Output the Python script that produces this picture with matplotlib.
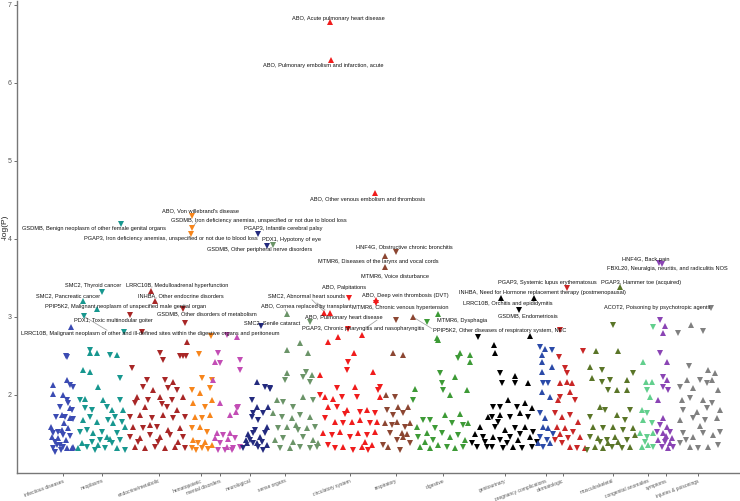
import matplotlib
matplotlib.use('Agg')
import matplotlib.pyplot as plt

plt.rcParams['font.family'] = ['Liberation Sans', 'DejaVu Sans']

# phenotype categories, tick position (phecode order) and colour
categories = ['infectious diseases', 'neoplasms', 'endocrine/metabolic', 'hematopoietic',
              'mental disorders', 'neurological', 'sense organs', 'circulatory system',
              'respiratory', 'digestive', 'genitourinary', 'pregnancy complications',
              'dermatologic', 'musculoskeletal', 'congenital anomalies', 'symptoms',
              'injuries & poisonings']
cat_ticks = [63, 102, 159, 201, 220, 250, 285, 350, 396, 443, 505, 546, 563, 613, 648, 666, 698]
cat_colors = ['#3B4BB3', '#17978F', '#A82626', '#F7851B', '#C34DB5', '#232A7E', '#6B9468',
              '#F01C1C', '#8C4632', '#3D9A36', '#000000', '#2B4AA8', '#C92626', '#5A7528',
              '#62CF8D', '#8A44B4', '#808080']

# (phecode position, -log10 P, sign of effect)
infectious = [(66, 2.50, -1), (67, 2.49, -1), (67, 2.19, 1), (70, 2.13, -1), (73, 2.10, -1), (53, 2.01, 1),
              (63, 2.00, 1), (67, 1.94, -1), (68, 1.90, -1), (60, 1.85, -1), (70, 1.83, 1), (72, 1.81, -1),
              (56, 1.72, -1), (62, 1.74, 1), (65, 1.72, -1), (70, 1.70, 1), (73, 1.69, -1), (51, 1.59, 1),
              (53, 1.51, -1), (58, 1.53, -1), (62, 1.55, 1), (63, 1.49, -1), (58, 1.45, 1), (55, 1.40, -1),
              (60, 1.36, -1), (63, 1.33, -1), (66, 1.42, 1), (67, 1.32, 1), (53, 1.32, -1), (57, 1.36, -1),
              (68, 1.58, 1), (73, 1.33, 1), (52, 1.46, 1), (55, 1.27, -1), (72, 1.32, 1), (71, 2.87, 1),
              (53, 2.13, 1), (64, 1.64, 1), (70, 1.48, -1), (61, 1.29, -1)]
neoplasms = [(90, 2.58, -1), (90, 2.54, 1), (97, 2.54, 1), (110, 2.51, -1), (117, 2.51, 1), (83, 2.32, 1),
             (90, 2.29, 1), (98, 2.10, 1), (120, 2.22, -1), (80, 1.94, -1), (85, 1.83, -1), (92, 1.81, -1),
             (103, 1.94, 1), (107, 1.85, -1), (112, 1.81, 1), (120, 1.94, -1), (123, 1.81, 1), (83, 1.68, 1),
             (90, 1.72, -1), (97, 1.65, 1), (108, 1.68, -1), (113, 1.64, 1), (122, 1.65, -1), (80, 1.53, -1),
             (87, 1.55, -1), (93, 1.51, 1), (102, 1.53, -1), (107, 1.46, 1), (117, 1.51, -1), (125, 1.59, 1),
             (82, 1.38, 1), (87, 1.33, -1), (92, 1.40, -1), (98, 1.36, 1), (105, 1.32, -1), (112, 1.38, -1),
             (117, 1.32, 1), (125, 1.29, -1), (78, 1.32, 1), (124, 2.81, -1), (100, 1.42, -1), (95, 1.30, -1),
             (110, 1.43, 1), (85, 1.95, 1), (115, 1.72, -1), (120, 1.42, -1)]
endocrine = [(183, 3.10, -1), (142, 2.81, -1), (187, 2.68, 1), (160, 2.54, -1), (163, 2.45, -1), (183, 2.50, -1),
             (180, 2.50, -1), (186, 2.50, -1), (132, 2.35, -1), (147, 2.19, -1), (165, 2.19, -1), (173, 2.17, 1),
             (143, 2.10, -1), (153, 2.06, 1), (168, 2.09, -1), (177, 2.06, -1), (137, 1.97, 1), (148, 1.94, -1),
             (160, 1.97, 1), (172, 1.94, -1), (183, 1.97, 1), (135, 1.90, -1), (145, 1.85, 1), (167, 1.85, -1),
             (177, 1.81, 1), (130, 1.72, -1), (140, 1.74, 1), (152, 1.70, -1), (163, 1.74, 1), (173, 1.70, -1),
             (185, 1.72, -1), (133, 1.59, 1), (143, 1.58, -1), (157, 1.59, -1), (168, 1.55, 1), (180, 1.58, 1),
             (130, 1.46, -1), (140, 1.45, 1), (150, 1.49, -1), (160, 1.46, 1), (170, 1.49, -1), (183, 1.46, -1),
             (135, 1.33, 1), (145, 1.32, 1), (155, 1.33, -1), (165, 1.32, 1), (175, 1.33, 1), (185, 1.32, -1),
             (138, 1.40, -1), (158, 1.40, -1), (178, 1.40, 1), (150, 1.62, 1), (162, 1.88, -1)]
hematopoietic = [(211, 2.76, -1), (199, 2.53, -1), (202, 2.22, -1), (212, 2.19, -1), (192, 2.06, -1), (200, 2.03, 1),
                 (210, 2.09, -1), (193, 1.90, 1), (205, 1.85, -1), (212, 1.94, 1), (195, 1.72, 1), (202, 1.70, -1),
                 (210, 1.74, 1), (192, 1.58, -1), (200, 1.59, 1), (207, 1.53, -1), (193, 1.42, 1), (198, 1.38, -1),
                 (205, 1.40, 1), (192, 1.32, -1), (202, 1.32, -1), (212, 1.36, 1), (196, 1.30, -1), (208, 1.31, -1)]
mental = [(237, 2.74, 1), (227, 2.77, -1), (218, 2.54, -1), (220, 2.41, -1), (215, 2.42, 1), (240, 2.45, -1),
          (240, 2.32, -1), (213, 2.19, 1), (220, 1.90, 1), (238, 1.85, -1), (230, 1.74, 1), (237, 1.83, -1),
          (217, 1.51, 1), (223, 1.49, -1), (230, 1.51, 1), (235, 1.45, -1), (220, 1.38, -1), (227, 1.33, 1),
          (233, 1.32, -1), (240, 1.33, -1), (218, 1.29, -1), (225, 1.29, -1), (215, 1.45, 1), (236, 1.78, 1),
          (232, 1.30, -1), (228, 1.44, 1)]
neurological = [(257, 2.17, 1), (265, 2.10, -1), (270, 2.09, -1), (252, 1.94, -1), (257, 1.85, 1), (263, 1.77, -1),
                (268, 1.85, 1), (252, 1.72, -1), (258, 1.68, -1), (267, 1.59, 1), (253, 1.51, -1), (260, 1.46, 1),
                (265, 1.51, -1), (253, 1.38, -1), (258, 1.33, -1), (267, 1.36, 1), (263, 1.29, -1), (250, 1.42, -1),
                (257, 1.38, 1), (247, 1.38, 1), (243, 1.32, -1), (246, 1.42, 1), (270, 2.08, -1), (255, 1.55, -1),
                (262, 1.40, -1), (248, 1.50, 1), (253, 1.77, -1)]
sense_organs = [(310, 2.94, -1), (300, 2.67, 1), (287, 2.58, 1), (308, 2.54, 1), (287, 2.28, 1), (285, 2.19, -1),
                (303, 2.23, -1), (312, 2.26, 1), (310, 2.17, -1), (277, 1.94, 1), (283, 1.91, -1), (293, 1.85, -1),
                (303, 1.97, 1), (313, 1.94, -1), (273, 1.77, 1), (282, 1.72, -1), (292, 1.70, 1), (300, 1.74, -1),
                (310, 1.72, 1), (278, 1.58, -1), (287, 1.59, 1), (298, 1.55, -1), (307, 1.58, 1), (315, 1.59, -1),
                (275, 1.42, 1), (283, 1.45, -1), (293, 1.40, 1), (303, 1.46, -1), (313, 1.42, 1), (318, 1.38, 1),
                (280, 1.32, -1), (290, 1.32, 1), (300, 1.33, -1), (310, 1.32, -1), (317, 1.33, -1), (296, 1.62, 1),
                (306, 2.30, -1)]
circulatory = [(328, 2.68, 1), (338, 2.74, 1), (348, 2.85, -1), (362, 2.77, 1), (354, 2.54, 1), (348, 2.42, -1),
               (347, 2.32, -1), (373, 2.29, 1), (320, 2.26, 1), (320, 2.00, -1), (325, 1.97, 1), (337, 2.09, -1),
               (342, 1.97, -1), (355, 2.10, 1), (357, 1.97, -1), (378, 2.06, -1), (380, 1.97, 1), (328, 1.85, 1),
               (337, 1.85, -1), (347, 1.81, 1), (360, 1.78, -1), (367, 1.81, 1), (375, 1.77, -1), (325, 1.70, -1),
               (335, 1.65, 1), (343, 1.64, -1), (352, 1.65, 1), (360, 1.68, 1), (370, 1.64, -1), (377, 1.65, 1),
               (323, 1.51, 1), (332, 1.49, -1), (340, 1.53, 1), (350, 1.46, -1), (358, 1.51, 1), (367, 1.49, -1),
               (375, 1.53, 1), (328, 1.36, -1), (335, 1.32, -1), (343, 1.33, 1), (353, 1.29, -1), (362, 1.33, 1),
               (368, 1.29, -1), (372, 1.36, 1), (330, 3.05, 1), (345, 1.75, -1), (365, 1.40, 1), (380, 2.10, -1),
               (333, 1.95, 1)]
respiratory = [(393, 2.54, 1), (403, 2.51, 1), (387, 1.81, -1), (393, 1.74, -1), (398, 1.85, 1), (403, 1.77, -1),
               (408, 1.85, 1), (385, 1.64, 1), (392, 1.62, -1), (397, 1.65, 1), (405, 1.59, -1), (410, 1.64, 1),
               (383, 1.36, -1), (388, 1.33, 1), (397, 1.42, -1), (403, 1.46, 1), (410, 1.38, -1), (390, 1.51, -1),
               (402, 1.51, 1), (395, 1.97, -1), (400, 1.30, -1), (407, 1.50, 1), (386, 2.00, 1)]
digestive = [(427, 2.94, -1), (437, 2.73, 1), (438, 2.71, 1), (460, 2.54, 1), (458, 2.47, -1), (470, 2.51, 1),
             (470, 2.42, 1), (415, 2.08, 1), (413, 1.94, -1), (440, 2.28, -1), (442, 2.15, -1), (443, 2.06, -1),
             (450, 2.00, 1), (455, 2.23, 1), (467, 2.06, 1), (423, 1.68, -1), (430, 1.68, -1), (417, 1.59, 1),
             (445, 1.74, 1), (452, 1.64, -1), (463, 1.62, -1), (468, 1.64, 1), (418, 1.46, -1), (427, 1.51, 1),
             (433, 1.42, -1), (442, 1.51, -1), (450, 1.46, 1), (458, 1.49, -1), (465, 1.42, 1), (420, 1.33, 1),
             (430, 1.32, 1), (438, 1.36, 1), (447, 1.33, -1), (455, 1.32, 1), (463, 1.33, -1), (435, 1.58, -1),
             (460, 1.75, 1), (425, 1.40, 1)]
genitourinary = [(478, 2.74, -1), (530, 2.76, 1), (494, 2.64, 1), (495, 2.54, 1), (500, 2.28, -1), (515, 2.24, 1),
                 (502, 2.15, -1), (515, 2.15, -1), (528, 2.15, 1), (493, 1.85, -1), (500, 1.85, -1), (508, 1.94, 1),
                 (517, 1.85, -1), (525, 1.90, 1), (532, 1.83, 1), (492, 1.72, -1), (500, 1.74, 1), (510, 1.72, -1),
                 (520, 1.77, 1), (528, 1.72, -1), (495, 1.59, -1), (505, 1.55, 1), (515, 1.58, -1), (525, 1.59, 1),
                 (533, 1.53, -1), (493, 1.46, 1), (500, 1.42, -1), (510, 1.46, -1), (518, 1.42, 1), (530, 1.46, 1),
                 (492, 1.33, -1), (503, 1.32, -1), (513, 1.33, 1), (522, 1.32, -1), (532, 1.33, -1), (480, 1.59, 1),
                 (483, 1.46, -1), (477, 1.33, -1), (488, 1.72, 1), (487, 1.33, -1), (472, 1.38, -1), (485, 1.40, -1),
                 (475, 1.50, 1), (507, 1.38, -1), (537, 1.40, -1), (498, 1.65, -1), (520, 1.50, -1)]
pregnancy = [(540, 2.62, -1), (545, 2.59, 1), (552, 2.58, -1), (542, 2.51, 1), (542, 2.42, 1), (552, 2.36, 1),
             (542, 2.30, 1), (543, 2.15, -1), (548, 2.15, -1), (542, 2.04, 1), (550, 1.97, 1), (540, 1.77, -1),
             (545, 1.70, 1), (543, 1.59, 1), (548, 1.58, 1), (540, 1.46, -1), (547, 1.42, -1), (543, 1.33, -1),
             (550, 1.38, 1), (538, 1.38, 1), (553, 1.50, -1)]
dermatologic = [(559, 2.49, -1), (565, 2.35, -1), (567, 2.28, -1), (567, 2.17, 1), (560, 2.15, 1), (572, 2.15, 1),
                (570, 2.04, 1), (560, 1.97, -1), (558, 1.94, 1), (575, 1.94, -1), (555, 1.77, -1), (562, 1.72, 1),
                (570, 1.74, -1), (557, 1.59, 1), (565, 1.58, 1), (573, 1.53, -1), (580, 1.46, 1), (555, 1.42, -1),
                (562, 1.38, -1), (570, 1.33, 1), (577, 1.32, -1), (585, 1.32, 1), (583, 2.56, -1), (560, 1.50, 1),
                (568, 1.45, -1), (578, 1.65, 1)]
musculoskeletal = [(613, 2.90, -1), (596, 2.56, 1), (618, 2.56, 1), (590, 2.36, 1), (602, 2.32, -1), (592, 2.22, 1),
                   (602, 2.17, -1), (610, 2.19, -1), (627, 2.19, 1), (633, 2.28, -1), (608, 2.06, -1), (617, 2.06, 1),
                   (627, 2.06, 1), (600, 1.85, 1), (605, 1.81, -1), (590, 1.72, -1), (617, 1.74, 1), (630, 1.81, -1),
                   (593, 1.59, 1), (603, 1.58, -1), (613, 1.59, 1), (623, 1.55, -1), (633, 1.58, 1), (590, 1.46, -1),
                   (598, 1.45, 1), (607, 1.42, -1), (615, 1.46, 1), (627, 1.42, -1), (635, 1.49, 1), (587, 1.29, -1),
                   (595, 1.33, 1), (603, 1.32, 1), (612, 1.33, -1), (622, 1.32, -1), (630, 1.33, 1), (608, 1.38, 1),
                   (618, 1.40, 1), (600, 1.40, -1), (625, 1.68, -1)]
congenital = [(653, 2.87, -1), (643, 2.42, 1), (646, 2.17, 1), (652, 2.17, 1), (647, 2.06, -1), (650, 1.97, 1),
              (642, 1.81, 1), (647, 1.77, -1), (643, 1.68, 1), (652, 1.64, -1), (640, 1.51, 1), (647, 1.46, -1),
              (642, 1.33, 1), (648, 1.36, 1), (653, 1.33, -1), (653, 1.51, 1), (645, 1.40, -1)]
symptoms = [(660, 2.96, -1), (665, 2.88, 1), (663, 2.79, 1), (660, 2.54, -1), (667, 2.42, 1), (663, 2.23, -1),
            (667, 2.19, 1), (663, 2.10, -1), (668, 2.06, -1), (658, 1.94, 1), (663, 1.70, 1), (660, 1.62, -1),
            (667, 1.59, 1), (657, 1.53, -1), (663, 1.51, 1), (670, 1.53, -1), (658, 1.42, 1), (665, 1.40, -1),
            (672, 1.45, 1), (662, 1.33, -1), (668, 1.32, 1), (673, 1.33, -1), (666, 1.48, 1), (670, 1.38, 1)]
injuries = [(678, 2.79, -1), (691, 2.90, 1), (703, 2.82, -1), (689, 2.37, -1), (708, 2.32, 1), (715, 2.28, 1),
            (687, 2.19, 1), (700, 2.19, -1), (707, 2.15, -1), (712, 2.19, 1), (680, 2.10, -1), (693, 2.09, 1),
            (718, 2.06, 1), (682, 1.94, 1), (690, 1.96, -1), (703, 1.94, 1), (712, 1.90, -1), (683, 1.81, -1),
            (697, 1.78, 1), (707, 1.83, -1), (720, 1.81, 1), (680, 1.68, 1), (693, 1.70, -1), (705, 1.68, -1),
            (717, 1.70, 1), (683, 1.51, -1), (693, 1.46, 1), (703, 1.51, -1), (713, 1.49, 1), (720, 1.53, -1),
            (680, 1.38, -1), (690, 1.33, 1), (698, 1.32, -1), (708, 1.33, 1), (718, 1.36, -1), (700, 1.60, 1),
            (686, 1.42, -1)]

all_points = [infectious, neoplasms, endocrine, hematopoietic, mental, neurological, sense_organs,
              circulatory, respiratory, digestive, genitourinary, pregnancy, dermatologic,
              musculoskeletal, congenital, symptoms, injuries]

# labelled hits: text, category index, position, -log10 P, sign
hit_labels = ["ABO, Acute pulmonary heart disease",
              "ABO, Pulmonary embolism and infarction, acute",
              "ABO, Other venous embolism and thrombosis",
              "ABO, Von willebrand's disease",
              "GSDMB, Iron deficiency anemias, unspecified or not due to blood loss",
              "GSDMB, Benign neoplasm of other female genital organs",
              "PGAP3, Iron deficiency anemias, unspecified or not due to blood loss",
              "PGAP3, Infantile cerebral palsy",
              "PDX1, Hypotony of eye",
              "GSDMB, Other peripheral nerve disorders",
              "HNF4G, Obstructive chronic bronchitis",
              "MTMR6, Diseases of the larynx and vocal cords",
              "MTMR6, Voice disturbance",
              "SMC2, Thyroid cancer",
              "LRRC10B, Medulloadrenal hyperfunction",
              "SMC2, Pancreatic cancer",
              "INHBA, Other endocrine disorders",
              "PPIP5K2, Malignant neoplasm of unspecified male genital organ",
              "GSDMB, Other disorders of metabolism",
              "PDX1, Toxic multinodular goiter",
              "LRRC10B, Malignant neoplasm of other and ill-defined sites within the digestive organs and peritoneum",
              "SMC2, Abnormal heart sounds",
              "ABO, Palpitations",
              "ABO, Deep vein thrombosis (DVT)",
              "ABO, Cornea replaced by transplant",
              "SMC2, Senile cataract",
              "MTMR6, Chronic venous hypertension",
              "ABO, Pulmonary heart disease",
              "PGAP3, Chronic pharyngitis and nasopharyngitis",
              "MTMR6, Dysphagia",
              "PPIP5K2, Other diseases of respiratory system, NEC",
              "PGAP3, Systemic lupus erythematosus",
              "INHBA, Need for Hormone replacement therapy (postmenopausal)",
              "LRRC10B, Orchitis and epididymitis",
              "GSDMB, Endometriosis",
              "HNF4G, Back pain",
              "FBXL20, Neuralgia, neuritis, and radiculitis NOS",
              "PGAP3, Hammer toe (acquired)",
              "ACOT2, Poisoning by psychotropic agents"]
hit_cat = [7, 7, 7, 3, 3, 1, 3, 5, 6, 5, 8, 8, 8, 1, 2, 1, 2, 1, 2, 2, 1, 7, 7, 7, 6, 5, 8, 7, 8, 9,
           12, 12, 10, 10, 10, 15, 15, 13, 16]
hit_x = [330, 331, 375, 192, 192, 121, 191, 258, 273, 267, 396, 385, 385, 102, 151, 83, 155, 97, 185, 130,
         84, 349, 376, 376, 287, 261, 413, 324, 396, 438, 560, 567, 501, 534, 519, 659, 662, 620, 711]
hit_y = [6.78, 6.29, 4.59, 4.29, 4.14, 4.19, 4.06, 4.06, 3.92, 3.91, 3.83, 3.78, 3.64, 3.32, 3.33, 3.21,
         3.21, 3.10, 2.92, 3.03, 3.01, 3.24, 3.18, 3.22, 3.04, 2.88, 3.00, 3.05, 2.96, 3.04, 2.83, 3.37,
         3.24, 3.24, 3.09, 3.69, 3.68, 3.38, 3.12]
hit_sign = [1, 1, 1, -1, -1, -1, -1, -1, -1, -1, -1, 1, 1, -1, 1, 1, 1, 1, -1, -1, -1, -1, -1, 1, 1, -1,
            1, 1, -1, 1, -1, -1, 1, 1, -1, -1, -1, 1, -1]

# label placement (repelled text centres)
label_x = [338, 323, 368, 200, 259, 94, 171, 283, 292, 260, 404, 378, 395, 93, 177, 68, 181, 126, 207, 113,
           150, 307, 344, 405, 306, 272, 400, 344, 363, 462, 500, 547, 542, 508, 528, 646, 667, 641, 657]
label_y = [6.83, 6.22, 4.51, 4.36, 4.24, 4.13, 4.01, 4.13, 3.99, 3.86, 3.90, 3.71, 3.53, 3.40, 3.40, 3.27,
           3.27, 3.14, 3.04, 2.95, 2.79, 3.27, 3.38, 3.27, 3.13, 2.92, 3.12, 2.99, 2.85, 2.96, 2.83, 3.44,
           3.31, 3.17, 3.01, 3.74, 3.62, 3.44, 3.12]
leaders = [((197, 4.22), (192, 4.15)), ((85, 3.00), (107, 2.83)), ((312, 3.22), (324, 3.07)),
           ((317, 3.18), (325, 3.09)), ((413, 3.00), (432, 2.85)), ((367, 2.87), (377, 2.96)),
           ((285, 3.10), (287, 3.05))]

fig = plt.figure(figsize=(7.40, 5.01), dpi=100)
ax = fig.add_axes([17 / 740, 28 / 501, 723 / 740, 472 / 501])

for pts, col in zip(all_points, cat_colors):
    up = [p for p in pts if p[2] > 0]
    dn = [p for p in pts if p[2] < 0]
    ax.plot([p[0] for p in up], [p[1] for p in up], '^', ms=3.7, color=col, mew=0, ls='none')
    ax.plot([p[0] for p in dn], [p[1] for p in dn], 'v', ms=3.7, color=col, mew=0, ls='none')

for (x0, y0), (x1, y1) in leaders:
    ax.plot([x0, x1], [y0, y1], color='#9a9a9a', lw=0.5, zorder=1)

for i in range(len(hit_labels)):
    ax.plot(hit_x[i], hit_y[i], '^' if hit_sign[i] > 0 else 'v', ms=3.7, mew=0,
            color=cat_colors[hit_cat[i]], ls='none')
    ax.text(label_x[i], label_y[i], hit_labels[i], ha='center', va='center',
            fontsize=4.1, color='#111111')

ax.set_xlim(17, 740)
ax.set_ylim(1.0, 7.05)
ax.set_yticks([2, 3, 4, 5, 6, 7])
ax.set_xticks(cat_ticks)
ax.set_xticklabels(categories, rotation=20, ha='right', rotation_mode='anchor',
                   fontsize=3.5, color='#555555')
ax.tick_params(axis='y', labelsize=5, colors='#555555', length=2.5, width=0.6, pad=1.5)
ax.tick_params(axis='x', length=2.5, width=0.6, colors='#555555', pad=1.5)
ax.set_ylabel('-log(P)', fontsize=6, color='#222222')
ax.yaxis.set_label_coords(-0.011, 0.52)
for side in ['top', 'right']:
    ax.spines[side].set_visible(False)
for side in ['left', 'bottom']:
    ax.spines[side].set_color('#777777')
    ax.spines[side].set_linewidth(1.0)

fig.savefig('out.png', dpi=100)
